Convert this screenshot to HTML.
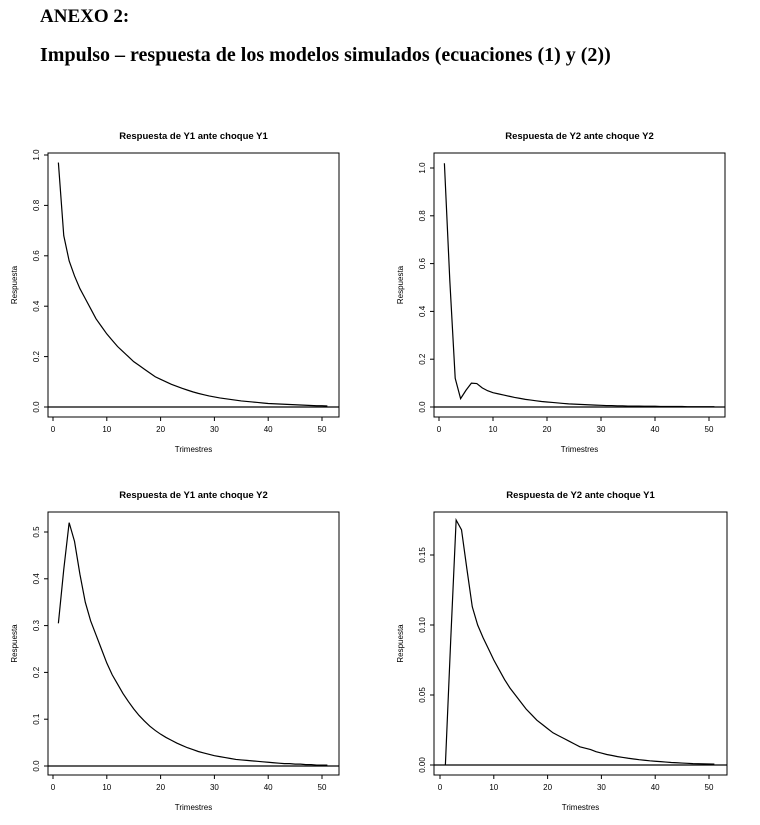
<!DOCTYPE html>
<html><head><meta charset="utf-8">
<style>
body{margin:0;background:#fff;width:760px;height:825px;overflow:hidden;}
.h{position:absolute;left:40px;font-family:"Liberation Serif",serif;font-weight:bold;color:#000;margin:0;}
svg text{font-family:"Liberation Sans",sans-serif;}
</style></head>
<body>
<h1 class="h" style="top:6px;font-size:19px;">ANEXO 2:</h1>
<h2 class="h" style="top:44px;font-size:20px;">Impulso – respuesta de los modelos simulados (ecuaciones (1) y (2))</h2>
<svg id="s" width="760" height="825" style="position:absolute;left:0;top:0"></svg>
<script>
const titles=["Respuesta de Y1 ante choque Y1","Respuesta de Y2 ante choque Y2","Respuesta de Y1 ante choque Y2","Respuesta de Y2 ante choque Y1"];
const xTicks=[0,10,20,30,40,50];
const yTicksA=[0,0.2,0.4,0.6,0.8,1.0];
const yTicksB=[0,0.1,0.2,0.3,0.4,0.5];
const yTicksC=[0,0.05,0.10,0.15];
const yLabA=["0.0","0.2","0.4","0.6","0.8","1.0"];
const yLabB=["0.0","0.1","0.2","0.3","0.4","0.5"];
const yLabC=["0.00","0.05","0.10","0.15"];
const resY1Y1=[0.97,0.68,0.58,0.52,0.47,0.43,0.39,0.35,0.32,0.29,0.265,0.24,0.22,0.20,0.18,0.165,0.15,0.135,0.12,0.11,0.10,0.09,0.082,0.074,0.067,0.06,0.054,0.049,0.044,0.04,0.036,0.033,0.03,0.027,0.024,0.022,0.02,0.018,0.016,0.014,0.013,0.012,0.011,0.01,0.009,0.008,0.007,0.006,0.005,0.005,0.004];
const resY2Y2=[1.02,0.53,0.12,0.035,0.07,0.10,0.098,0.08,0.068,0.06,0.055,0.05,0.045,0.04,0.036,0.032,0.029,0.026,0.023,0.021,0.019,0.017,0.015,0.013,0.012,0.011,0.01,0.009,0.008,0.007,0.006,0.006,0.005,0.005,0.004,0.004,0.004,0.003,0.003,0.003,0.002,0.002,0.002,0.002,0.002,0.001,0.001,0.001,0.001,0.001,0.001];
const resY1Y2=[0.305,0.42,0.52,0.48,0.41,0.35,0.31,0.28,0.25,0.22,0.195,0.175,0.155,0.138,0.122,0.108,0.096,0.085,0.076,0.068,0.061,0.055,0.049,0.044,0.039,0.035,0.031,0.028,0.025,0.022,0.02,0.018,0.016,0.014,0.013,0.012,0.011,0.01,0.009,0.008,0.007,0.006,0.005,0.005,0.004,0.004,0.003,0.003,0.002,0.002,0.002];
const resY2Y1=[0,0.09,0.175,0.168,0.14,0.113,0.1,0.091,0.083,0.075,0.068,0.061,0.055,0.05,0.045,0.04,0.036,0.032,0.029,0.026,0.023,0.021,0.019,0.017,0.015,0.013,0.012,0.011,0.0095,0.0085,0.0075,0.0068,0.006,0.0054,0.0048,0.0043,0.0038,0.0034,0.003,0.0027,0.0024,0.0021,0.0018,0.0016,0.0014,0.0012,0.001,0.0009,0.0008,0.0007,0.0006];
const svg=document.getElementById('s');
const NS='http://www.w3.org/2000/svg';
function mk(t,a,p){const e=document.createElementNS(NS,t);for(const k in a)e.setAttribute(k,a[k]);p.appendChild(e);return e;}
const panels=[
 {bx0:48,bx1:339,by0:153,by1:417,x0:53,x50:322,yv0:0,yp0:407,yv1:1,yp1:155,ticks:yTicksA,labs:yLabA,data:resY1Y1,name:'y1-y1'},
 {bx0:434,bx1:725,by0:153,by1:417,x0:439,x50:709,yv0:0,yp0:407,yv1:1,yp1:168,ticks:yTicksA,labs:yLabA,data:resY2Y2,name:'y2-y2'},
 {bx0:48,bx1:339,by0:512,by1:775,x0:53,x50:322,yv0:0,yp0:766,yv1:0.5,yp1:532,ticks:yTicksB,labs:yLabB,data:resY1Y2,name:'y1-y2'},
 {bx0:434,bx1:727,by0:512,by1:775,x0:440,x50:709,yv0:0,yp0:765,yv1:0.15,yp1:555,ticks:yTicksC,labs:yLabC,data:resY2Y1,name:'y2-y1'}];
panels.forEach((p,i)=>{
 const g=mk('g',{},svg);
 
 
 const xs=v=>p.x0+(p.x50-p.x0)*v/50;
 const ys=v=>p.yp0+(p.yp1-p.yp0)*(v-p.yv0)/(p.yv1-p.yv0);
 const cx=(p.bx0+p.bx1)/2;
 const t=mk('text',{x:cx,y:p.by0-14,'font-size':9.5,'font-weight':'bold','text-anchor':'middle'},g);t.textContent=titles[i];
 
 const b=mk('rect',{x:p.bx0,y:p.by0,width:p.bx1-p.bx0,height:p.by1-p.by0,fill:'none',stroke:'#000','stroke-width':1},g);
 
 const xa=mk('g',{},g);
 xTicks.forEach(v=>{const x=xs(v);mk('line',{x1:x,x2:x,y1:p.by1,y2:p.by1+4,stroke:'#000'},xa);
  const l=mk('text',{x:x,y:p.by1+15,'font-size':8,'text-anchor':'middle'},xa);l.textContent=v;});
 const xt=mk('text',{x:cx,y:p.by1+35,'font-size':8,'text-anchor':'middle'},g);xt.textContent='Trimestres';
 
 const ya=mk('g',{},g);
 p.ticks.forEach((v,k)=>{const y=ys(v);mk('line',{x1:p.bx0-4,x2:p.bx0,y1:y,y2:y,stroke:'#000'},ya);
  const l=mk('text',{x:p.bx0-9,y:y,'font-size':8,'text-anchor':'middle',transform:`rotate(-90 ${p.bx0-9} ${y})`},ya);l.textContent=p.labs[k];});
 const yy=(p.by0+p.by1)/2;
 const yt=mk('text',{x:p.bx0-31,y:yy,'font-size':8,'text-anchor':'middle',transform:`rotate(-90 ${p.bx0-31} ${yy})`},g);yt.textContent='Respuesta';
 
 const z=mk('line',{x1:p.bx0,x2:p.bx1,y1:ys(0),y2:ys(0),stroke:'#000','stroke-width':1.2},g);
 
 const pts=p.data.map((v,k)=>xs(k+1).toFixed(2)+','+ys(v).toFixed(2)).join(' ');
 const pl=mk('polyline',{points:pts,fill:'none',stroke:'#000','stroke-width':1.2},g);
 
});
</script>
</body></html>
